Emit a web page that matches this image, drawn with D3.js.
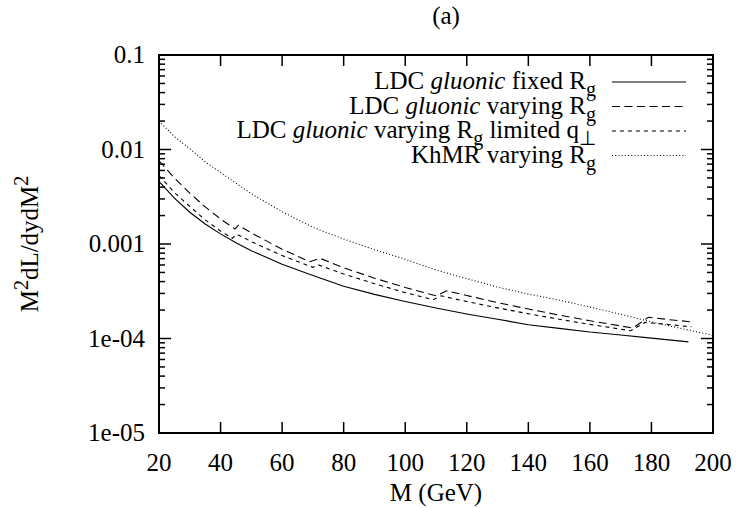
<!DOCTYPE html>
<html>
<head>
<meta charset="utf-8">
<script src="https://cdn.jsdelivr.net/npm/d3@7"></script>
<style>
  html, body { margin: 0; padding: 0; background: #fff; }
  svg { display: block; }
  text { font-family: "Liberation Serif", "Times New Roman", serif; fill: #000; }
</style>
</head>
<body>
<script>
// ---- data ----
const xTicks = [20, 40, 60, 80, 100, 120, 140, 160, 180, 200];
const yTicks = [1e-5, 1e-4, 1e-3, 1e-2, 1e-1];
const yTickLabels = ["1e-05", "1e-04", "0.001", "0.01", "0.1"];

const mSolid = [20,25,30,35,40,45,50,60,70,80,90,100,110,120,130,140,150,160,170,180,192];
const vSolid = [0.0046,0.00305,0.00217,0.00163,0.00128,0.00103,0.00085,0.00061,0.000465,0.000358,0.000293,0.000246,0.00021,0.000182,0.00016,0.00014,0.000128,0.000117,0.000109,0.000101,0.000092];

const mLong = [20,25,30,35,40,44.7,45.8,50,60,69,72.3,80,90,100,110,113.5,120,130,140,150,160,174,179,186,193];
const vLong = [0.0076,0.005,0.00345,0.00247,0.00184,0.00144,0.00158,0.00131,0.00088,0.00065,0.000705,0.00056,0.000435,0.000347,0.000283,0.00032,0.000285,0.00024,0.000205,0.000177,0.000154,0.000129,0.000168,0.000158,0.00015];

const mShort = [20,25,30,35,40,43.8,45.3,50,60,70,71.8,80,90,100,109,111.7,120,130,140,150,160,173.2,178,186,193];
const vShort = [0.0053,0.0035,0.0025,0.0018,0.00137,0.00115,0.00127,0.00106,0.000754,0.000566,0.0006,0.000482,0.00038,0.000306,0.000257,0.000283,0.000246,0.000211,0.000183,0.00016,0.000141,0.000121,0.000148,0.00014,0.000133];

const mKh = [20,25,30,35,40,45,50,60,70,80,90,100,110,120,130,140,150,160,170,180,190,200];
const vKh = [0.02,0.0137,0.0102,0.0074,0.0057,0.0044,0.0034,0.0022,0.0015,0.00113,0.00087,0.00069,0.00053,0.00043,0.00035,0.000295,0.000255,0.000215,0.00018,0.00015,0.000127,0.000108];

const seriesDefs = [
  { m: mSolid, v: vSolid, dash: null },
  { m: mLong, v: vLong, dash: "8,4.5" },
  { m: mShort, v: vShort, dash: "4,4" },
  { m: mKh, v: vKh, dash: "1,2.2" }
];

// ---- layout ----
const W = 737, H = 508;
const L = 159, R = 713, T = 55, B = 433;
const FS = 25;

const svg = d3.select("body").append("svg").attr("width", W).attr("height", H);

const x = d3.scaleLinear().domain([20, 200]).range([L, R]);
const y = d3.scaleLog().domain([1e-5, 0.1]).range([B, T]);

// ticks (gnuplot style, inward, mirrored)
const tg = svg.append("g").attr("stroke", "#000").attr("stroke-width", 1.5);
xTicks.forEach(t => {
  if (t === 20 || t === 200) return;
  tg.append("line").attr("x1", x(t)).attr("x2", x(t)).attr("y1", B).attr("y2", B - 11);
  tg.append("line").attr("x1", x(t)).attr("x2", x(t)).attr("y1", T).attr("y2", T + 11);
});
for (let e = -5; e <= -2; e++) {
  for (let k = 1; k <= 9; k++) {
    const v = k * Math.pow(10, e);
    const len = (k === 1) ? 12 : 6;
    const yy = y(v);
    tg.append("line").attr("x1", L).attr("x2", L + len).attr("y1", yy).attr("y2", yy);
    tg.append("line").attr("x1", R).attr("x2", R - len).attr("y1", yy).attr("y2", yy);
  }
}

// frame
svg.append("rect").attr("x", L).attr("y", T).attr("width", R - L).attr("height", B - T)
  .attr("fill", "none").attr("stroke", "#000").attr("stroke-width", 2);

// tick labels
svg.append("g").selectAll("text").data(xTicks).join("text")
  .attr("x", d => x(d)).attr("y", B + 38).attr("text-anchor", "middle")
  .attr("font-size", FS).text(d => d);
svg.append("g").selectAll("text").data(yTicks).join("text")
  .attr("x", L - 14).attr("y", d => y(d) + 8).attr("text-anchor", "end")
  .attr("font-size", FS).text((d, i) => yTickLabels[i]);

// titles
svg.append("text").attr("x", (L + R) / 2 + 10).attr("y", 24).attr("text-anchor", "middle")
  .attr("font-size", FS).text("(a)");
svg.append("text").attr("x", (L + R) / 2).attr("y", 501).attr("text-anchor", "middle")
  .attr("font-size", FS).text("M (GeV)");
const yl = svg.append("text").attr("transform", `translate(38,${(T + B) / 2}) rotate(-90)`)
  .attr("text-anchor", "middle").attr("font-size", FS);
yl.append("tspan").text("M");
yl.append("tspan").attr("dy", -10).attr("font-size", FS * 0.8).text("2");
yl.append("tspan").attr("dy", 10).text("dL/dydM");
yl.append("tspan").attr("dy", -10).attr("font-size", FS * 0.8).text("2");

// curves
svg.append("clipPath").attr("id", "clip").append("rect")
  .attr("x", L).attr("y", T).attr("width", R - L).attr("height", B - T);
const line = d3.line().x(d => x(d[0])).y(d => y(d[1]));
seriesDefs.forEach(s => {
  const pts = s.m.map((m, i) => [m, s.v[i]]);
  svg.append("path").attr("d", line(pts)).attr("fill", "none").attr("stroke", "#000")
    .attr("stroke-width", 1.1).attr("stroke-dasharray", s.dash).attr("clip-path", "url(#clip)");
});

// legend
const legX = 596, lx1 = 612, lx2 = 686;
const rows = [82, 106.5, 131, 155.5];
const SUB = 7;
function sub(t, s) { t.append("tspan").attr("dy", SUB).attr("font-size", FS * 0.8).text(s); }
const lg = svg.append("g").attr("font-size", FS);
// row 1
let t = lg.append("text").attr("x", legX).attr("y", rows[0] + 7).attr("text-anchor", "end");
t.append("tspan").text("LDC ");
t.append("tspan").attr("font-style", "italic").text("gluonic");
t.append("tspan").text(" fixed R");
sub(t, "g");
// row 2
t = lg.append("text").attr("x", legX).attr("y", rows[1] + 7).attr("text-anchor", "end");
t.append("tspan").text("LDC ");
t.append("tspan").attr("font-style", "italic").text("gluonic");
t.append("tspan").text(" varying R");
sub(t, "g");
// row 3
t = lg.append("text").attr("x", legX).attr("y", rows[2] + 7).attr("text-anchor", "end");
t.append("tspan").text("LDC ");
t.append("tspan").attr("font-style", "italic").text("gluonic");
t.append("tspan").text(" varying R");
t.append("tspan").attr("dy", SUB).attr("font-size", FS * 0.8).text("g");
t.append("tspan").attr("dy", -SUB).text(" limited q");
sub(t, "⊥");
// row 4
t = lg.append("text").attr("x", legX).attr("y", rows[3] + 7).attr("text-anchor", "end");
t.append("tspan").text("KhMR varying R");
sub(t, "g");

seriesDefs.forEach((s, i) => {
  svg.append("line").attr("x1", lx1).attr("x2", lx2).attr("y1", rows[i]).attr("y2", rows[i])
    .attr("stroke", "#000").attr("stroke-width", 1.1).attr("stroke-dasharray", s.dash);
});
</script>
</body>
</html>
